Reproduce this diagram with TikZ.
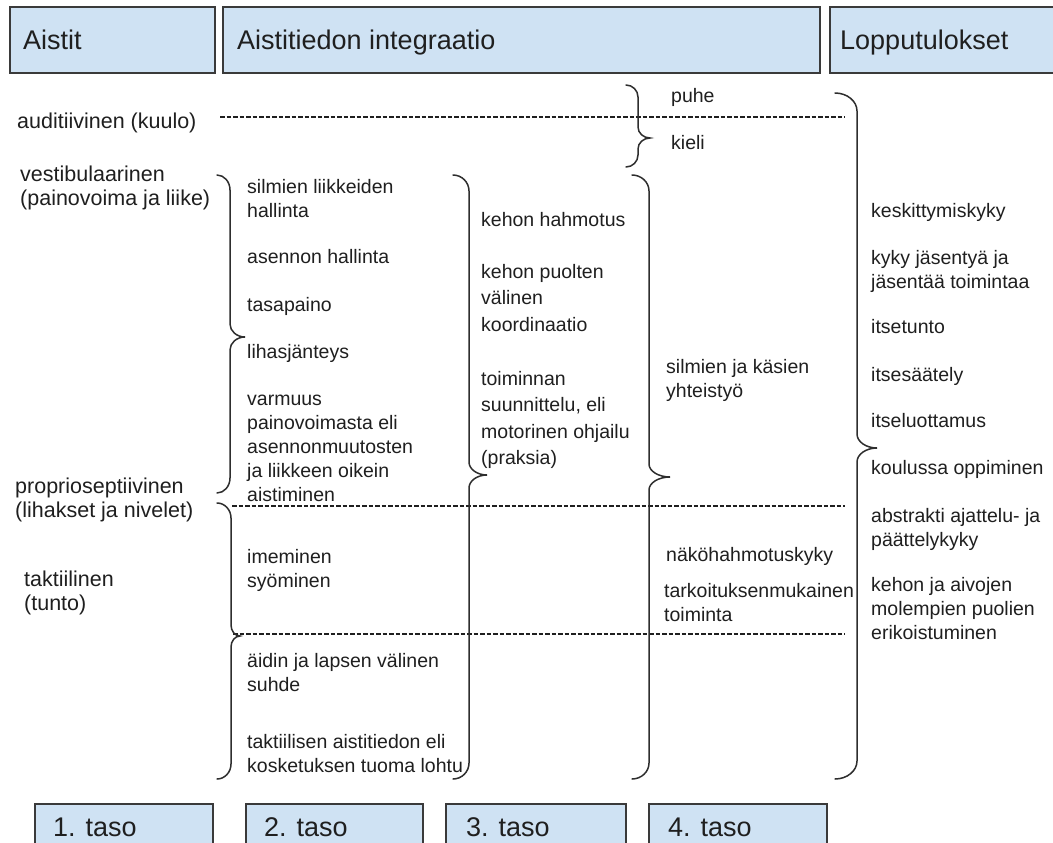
\documentclass[tikz,border=0pt]{standalone}
\usepackage{fontspec}
\setmainfont{Liberation Sans}
\definecolor{boxfill}{HTML}{CFE2F3}
\definecolor{boxline}{HTML}{3A3A3A}
\definecolor{txt}{HTML}{1F1F1F}
\definecolor{brcol}{HTML}{2E2E2E}
\newcommand\fsBody{\fontsize{19.5}{24}\selectfont}
\newcommand\fsWide{\fontsize{19.5}{26.5}\selectfont}
\newcommand\fsLeft{\fontsize{21.5}{24}\selectfont}
\newcommand\fsHead{\fontsize{27}{32}\selectfont}
\newcommand\drawbrace[8]{% xh xv xc yt yc yb r r2
  \draw[brc] (#1,#4) .. controls ({#1+0.55*(#2-#1)},#4) and (#2,{#4+0.45*#7}) .. (#2,{#4+#7})
    -- (#2,{#5-#8}) .. controls (#2,{#5-0.45*#8}) and ({#2+0.45*(#3-#2)},#5) .. (#3,#5)
    .. controls ({#2+0.45*(#3-#2)},#5) and (#2,{#5+0.45*#8}) .. (#2,{#5+#8})
    -- (#2,{#6-#7}) .. controls (#2,{#6-0.45*#7}) and ({#1+0.55*(#2-#1)},#6) .. (#1,#6);}
\begin{document}
\begin{tikzpicture}[x=1pt,y=-1pt,
  box/.style={draw=boxline,fill=boxfill,line width=1.3pt},
  hdr/.style={anchor=base west,inner sep=0pt,text=txt,font=\fsHead},
  lbl/.style={anchor=north west,inner sep=0pt,align=left,text=txt,font=\fsBody},
  lblwide/.style={lbl,font=\fsWide},
  lblleft/.style={lbl,font=\fsLeft},
  brc/.style={draw=brcol,line width=1.5pt,line cap=round},
  sep/.style={draw=txt,line width=1.4pt,dash pattern=on 4.5pt off 2pt}]
\useasboundingbox (0,0) rectangle (1053,843);
\clip (0,0) rectangle (1053,843);
\fill[white] (0,0) rectangle (1053,843);

% header boxes
\draw[box] (10,7) rectangle (215,73);
\draw[box] (223,7) rectangle (820,73);
\draw[box] (830,7) rectangle (1070,73);
\node[hdr] (hA) at (23,50) {Aistit};
\node[hdr] (hB) at (237,50) {Aistitiedon integraatio};
\node[hdr] (hC) at (840,50) {Lopputulokset};

% bottom boxes
\draw[box] (35,804) rectangle (213,860);
\draw[box] (246,804) rectangle (423,860);
\draw[box] (446,804) rectangle (626,860);
\draw[box] (649,804) rectangle (827,860);
\node[hdr] (t1) at (53,836) {1. taso};
\node[hdr] (t2) at (264,836) {2. taso};
\node[hdr] (t3) at (466,836) {3. taso};
\node[hdr] (t4) at (668,836) {4. taso};

% dashed separators
\coordinate (d1a) at (220,117); \coordinate (d1b) at (845,117);
\coordinate (d2a) at (232,506); \coordinate (d2b) at (845,506);
\coordinate (d3a) at (233,634); \coordinate (d3b) at (845,634);
\draw[sep] (d1a) -- (d1b);
\draw[sep] (d2a) -- (d2b);
\draw[sep] (d3a) -- (d3b);

% braces
\drawbrace{217}{230}{245}{175}{337}{493}{15}{13}
\drawbrace{217}{231}{240}{503}{636}{779}{15}{11}
\drawbrace{626}{638}{650}{85}{138}{167}{12}{11}
\drawbrace{453}{469}{487}{175}{475}{779}{16}{13}
\drawbrace{632}{649}{670}{175}{477}{779}{16}{13}
\drawbrace{835}{857}{877}{93}{448}{779}{18}{14}

% column 1: senses
\node[lblleft] (s1) at (17,111.2) {\strut auditiivinen (kuulo)};
\node[lblleft] (s2) at (20,164.2) {\strut vestibulaarinen\\\strut (painovoima ja liike)};
\node[lblleft] (s3) at (15,476.2) {\strut proprioseptiivinen\\\strut (lihakset ja nivelet)};
\node[lblleft] (s4) at (24,569.2) {\strut taktiilinen\\\strut (tunto)};

% column 2
\node[lbl] (a1) at (247,176.2) {\strut silmien liikkeiden\\\strut hallinta};
\node[lbl] (a2) at (247,246.2) {\strut asennon hallinta};
\node[lbl] (a3) at (247,294.2) {\strut tasapaino};
\node[lbl] (a4) at (247,341.2) {\strut lihasjänteys};
\node[lbl] (a5) at (247,388.2) {\strut varmuus\\\strut painovoimasta eli\\\strut asennonmuutosten\\\strut ja liikkeen oikein\\\strut aistiminen};
\node[lbl] (a6) at (247,546.2) {\strut imeminen\\\strut syöminen};
\node[lbl] (a7) at (247,650.2) {\strut äidin ja lapsen välinen\\\strut suhde};
\node[lbl] (a8) at (247,731.2) {\strut taktiilisen aistitiedon eli\\\strut kosketuksen tuoma lohtu};

% column 3
\node[lblwide] (b1) at (481,207.45) {\strut kehon hahmotus};
\node[lblwide] (b2) at (481,259.45) {\strut kehon puolten\\\strut välinen\\\strut koordinaatio};
\node[lblwide] (b3) at (481,366.45) {\strut toiminnan\\\strut suunnittelu, eli\\\strut motorinen ohjailu\\\strut (praksia)};

% column 4
\node[lbl] (c1) at (671,85.2) {\strut puhe};
\node[lbl] (c2) at (671,132.2) {\strut kieli};
\node[lbl] (c3) at (666,356.2) {\strut silmien ja käsien\\\strut yhteistyö};
\node[lbl] (c4) at (666,544.2) {\strut näköhahmotuskyky};
\node[lbl] (c5) at (664,580.2) {\strut tarkoituksenmukainen\\\strut toiminta};

% column 5: results
\node[lbl] (r1) at (871,200.2) {\strut keskittymiskyky};
\node[lbl] (r2) at (871,247.2) {\strut kyky jäsentyä ja\\\strut jäsentää toimintaa};
\node[lbl] (r3) at (871,316.2) {\strut itsetunto};
\node[lbl] (r4) at (871,364.2) {\strut itsesäätely};
\node[lbl] (r5) at (871,410.2) {\strut itseluottamus};
\node[lbl] (r6) at (871,457.2) {\strut koulussa oppiminen};
\node[lbl] (r7) at (871,505.2) {\strut abstrakti ajattelu- ja\\\strut päättelykyky};
\node[lbl] (r8) at (871,574.2) {\strut kehon ja aivojen\\\strut molempien puolien\\\strut erikoistuminen};
\end{tikzpicture}
\end{document}
